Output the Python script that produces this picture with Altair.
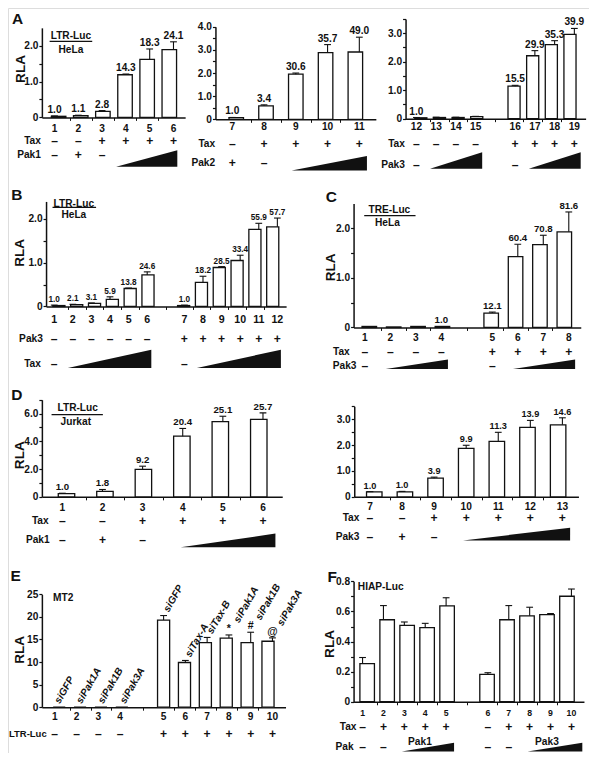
import altair as alt
import pandas as pd

# ---------------------------------------------------------------- data
A1_lane = ["1", "2", "3", "4", "5", "6"]
A1_slot = [1, 2, 3, 4, 5, 6]
A1_rla = [0.03, 0.05, 0.17, 1.19, 1.62, 1.89]
A1_err = [0.01, 0.01, 0.02, 0.02, 0.29, 0.22]
A1_fold = ["1.0", "1.1", "2.8", "14.3", "18.3", "24.1"]
A1_tax = ["–", "–", "+", "+", "+", "+"]
A1_pak = ["–", "+", "–", "", "", ""]
A1_ramp = [[3.59, 6.16]]

A2_lane = ["7", "8", "9", "10", "11"]
A2_slot = [7, 8, 9, 10, 11]
A2_rla = [0.07, 0.585, 1.95, 2.88, 2.91]
A2_err = [0.01, 0.04, 0.05, 0.35, 0.64]
A2_fold = ["1.0", "3.4", "30.6", "35.7", "49.0"]
A2_tax = ["–", "+", "+", "+", "+"]
A2_pak = ["+", "–", "", "", ""]
A2_ramp = [[8.87, 11.24]]

A3_lane = ["12", "13", "14", "15", "16", "17", "18", "19"]
A3_slot = [0, 1, 2, 3, 5, 6, 7, 8]
A3_rla = [0.03, 0.04, 0.04, 0.07, 1.14, 2.21, 2.60, 2.96]
A3_err = [0.01, 0.01, 0.01, 0.01, 0.03, 0.18, 0.14, 0.21]
A3_fold = ["1.0", "", "", "", "15.5", "29.9", "35.3", "39.9"]
A3_tax = ["–", "–", "–", "–", "+", "+", "+", "+"]
A3_pak = ["–", "", "", "", "–", "", "", ""]
A3_ramp = [[0.69, 3.33], [5.69, 8.32]]

B_lane = ["1", "2", "3", "4", "5", "6", "7", "8", "9", "10", "11", "12"]
B_slot = [0, 1, 2, 3, 4, 5, 7, 8, 9, 10, 11, 12]
B_rla = [0.02, 0.04, 0.07, 0.16, 0.41, 0.72, 0.02, 0.55, 0.89, 1.05, 1.76, 1.82]
B_err = [0.01, 0.01, 0.01, 0.06, 0.01, 0.07, 0.01, 0.14, 0.02, 0.12, 0.14, 0.20]
B_fold = ["1.0", "2.1", "3.1", "5.9", "13.8", "24.6", "1.0", "18.2", "28.5", "33.4", "55.9", "57.7"]
B_pak = ["–", "–", "–", "–", "–", "–", "+", "+", "+", "+", "+", "+"]
B_tax = ["–", "", "", "", "", "", "–", "", "", "", "", ""]
B_ramp = [[0.73, 5.22], [7.67, 12.19]]

C_lane = ["1", "2", "3", "4", "5", "6", "7", "8"]
C_slot = [0, 1, 2, 3, 5, 6, 7, 8]
C_rla = [0.02, 0.01, 0.02, 0.02, 0.29, 1.43, 1.67, 1.93]
C_err = [0.0, 0.0, 0.0, 0.0, 0.02, 0.25, 0.19, 0.40]
C_fold = ["", "", "", "1.0", "12.1", "60.4", "70.8", "81.6"]
C_tax = ["–", "–", "–", "–", "+", "+", "+", "+"]
C_pak = ["–", "", "", "", "–", "", "", ""]
C_ramp = [[0.82, 3.26], [5.81, 8.25]]

D1_lane = ["1", "2", "3", "4", "5", "6"]
D1_slot = [1, 2, 3, 4, 5, 6]
D1_rla = [0.23, 0.40, 1.98, 4.37, 5.42, 5.58]
D1_err = [0.03, 0.13, 0.23, 0.56, 0.39, 0.47]
D1_fold = ["1.0", "1.8", "9.2", "20.4", "25.1", "25.7"]
D1_tax = ["–", "–", "+", "+", "+", "+"]
D1_pak = ["–", "+", "–", "", "", ""]
D1_ramp = [[3.95, 6.31]]

D2_lane = ["7", "8", "9", "10", "11", "12", "13"]
D2_slot = [7, 8, 9, 10, 11, 12, 13]
D2_rla = [0.19, 0.19, 0.72, 1.87, 2.14, 2.68, 2.78]
D2_err = [0.01, 0.02, 0.04, 0.12, 0.35, 0.27, 0.27]
D2_fold = ["1.0", "1.0", "3.9", "9.9", "11.3", "13.9", "14.6"]
D2_tax = ["–", "–", "+", "+", "+", "+", "+"]
D2_pak = ["–", "+", "–", "", "", "", ""]
D2_ramp = [[9.9, 13.24]]

E_lane = ["1", "2", "3", "4", "5", "6", "7", "8", "9", "10"]
E_slot = [0, 1, 2, 3, 5, 6, 7, 8, 9, 10]
E_rla = [0, 0, 0, 0, 19.3, 9.9, 14.3, 15.3, 14.3, 14.6]
E_err = [0, 0, 0, 0, 1.0, 0.45, 1.15, 0.7, 2.3, 0.75]
E_si = ["siGFP", "siPak1A", "siPak1B", "siPak3A", "siGFP", "siTax-A", "siTax-B", "siPak1A", "siPak1B", "siPak3A"]
E_mark = ["", "", "", "", "", "", "", "*", "#", "@"]
E_ltr = ["–", "–", "–", "–", "+", "+", "+", "+", "+", "+"]

F_lane = ["1", "2", "3", "4", "5", "6", "7", "8", "9", "10"]
F_slot = [0, 1, 2, 3, 4, 6, 7, 8, 9, 10]
F_rla = [0.253, 0.545, 0.508, 0.493, 0.637, 0.182, 0.545, 0.571, 0.579, 0.701]
F_err = [0.041, 0.094, 0.022, 0.028, 0.054, 0.011, 0.094, 0.057, 0.007, 0.048]
F_tax = ["–", "+", "+", "+", "+", "–", "+", "+", "+", "+"]
F_pak = ["–", "–", "", "", "", "–", "–", "", "", ""]
F_ramp = [[1.88, 4.38], [7.9, 10.52]]
F_ramp_name = ["Pak1", "Pak3"]

# ---------------------------------------------------------------- layout
S = 0.968
W, H = round(600 * S), round(770 * S)
FONT = "Liberation Sans"
INK = "#111111"


def P(v):
    return v * S


GEOM = {
    "A1": dict(xa=35, xb=183, d0=0.47, d1=6.49, y0=113, unit=37, ymax=2.5,
               ticks=[0, 0.5, 1, 1.5, 2], labels={0: "0", 1: "1.0", 2: "2.0"},
               bw=15, vfs=10.5, lane_y=125),
    "A2": dict(xa=214.3, xb=380, d0=6.47, d1=11.52, y0=115, unit=23.9, ymax=4,
               ticks=[0, 0.5, 1, 1.5, 2, 2.5, 3, 3.5, 4],
               labels={0: "0", 1: "1.0", 2: "2.0", 3: "3.0", 4: "4.0"},
               bw=15, vfs=10.5, lane_y=123),
    "A3": dict(xa=410.7, xb=596.7, d0=-0.55, d1=8.57, y0=114.3, unit=29.4, ymax=3.5,
               ticks=[0, 0.5, 1, 1.5, 2, 2.5, 3, 3.5],
               labels={0: "0", 1: "1.0", 2: "2.0", 3: "3.0"},
               bw=12.5, vfs=10.5, lane_y=123),
    "B": dict(xa=39.3, xb=287.3, d0=-0.44, d1=12.47, y0=308.3, unit=45.2, ymax=2.4,
              ticks=[0, 0.5, 1, 1.5, 2], labels={0: "0", 1: "1.0", 2: "2.0"},
              bw=12.5, vfs=8.5, lane_y=322, lane_fs=11),
    "C": dict(xa=357, xb=591.7, d0=-0.44, d1=8.47, y0=330, unit=51.2, ymax=2.5,
              ticks=[0, 0.5, 1, 1.5, 2], labels={0: "0", 1: "1.0", 2: "2.0"},
              bw=15, vfs=10, lane_y=341),
    "D1": dict(xa=35, xb=283.3, d0=0.49, d1=6.48, y0=505, unit=14.33, ymax=7,
               ticks=[0, 1, 2, 3, 4, 5, 6, 7], labels={0: "0", 2: "2.0", 4: "4.0", 6: "6.0"},
               bw=17, vfs=10, lane_y=517),
    "D2": dict(xa=357.7, xb=589.3, d0=6.51, d1=13.5, y0=505, unit=26.77, ymax=3.5,
               ticks=[0, 0.5, 1, 1.5, 2, 2.5, 3, 3.5],
               labels={0: "0", 1: "1.0", 2: "2.0", 3: "3.0"},
               bw=16, vfs=9.5, lane_y=515),
    "E": dict(xa=35, xb=286.7, d0=-0.59, d1=10.6, y0=722.3, unit=4.664, ymax=25,
              ticks=[0, 5, 10, 15, 20, 25],
              labels={0: "0", 5: "5", 10: "10", 15: "15", 20: "20", 25: "25"},
              bw=12.5, vfs=10, lane_y=732),
    "F": dict(xa=357, xb=595, d0=-0.43, d1=10.6, y0=716.7, unit=155.5, ymax=0.8,
              ticks=[0, 0.1, 0.2, 0.3, 0.4, 0.5, 0.6, 0.7, 0.8],
              labels={0: "0", 0.2: "0.2", 0.4: "0.4", 0.6: "0.6", 0.8: "0.8"},
              bw=15, vfs=10, lane_y=728, lane_fs=9),
}

layers = []


def txt(s, x, y, size=10.5, align="center", baseline="middle", angle=0, style="normal"):
    return alt.Chart(pd.DataFrame({"t": [s]})).mark_text(
        align=align, baseline=baseline, angle=angle, font=FONT, fontSize=P(size),
        fontWeight="bold", fontStyle=style, color=INK
    ).encode(x=alt.value(P(x)), y=alt.value(P(y)), text="t:N")


def hline(x0, x1, y, w=1.2):
    return alt.Chart(pd.DataFrame({"t": [0]})).mark_rule(color=INK, strokeWidth=w).encode(
        x=alt.value(P(x0)), x2=alt.value(P(x1)), y=alt.value(P(y)))


def label_expr(lab):
    expr = "''"
    for v, s in reversed(list(lab.items())):
        expr = f"(datum.value == {v}) ? '{s}' : {expr}"
    return expr


def panel(g, df, rows, ramps, ramp_box, with_fold=True):
    xs = alt.Scale(domain=[g["d0"], g["d1"]], range=[P(g["xa"]), P(g["xb"])], nice=False, zero=False)
    ys = alt.Scale(domain=[0, g["ymax"]], range=[P(g["y0"]), P(g["y0"] - g["ymax"] * g["unit"])],
                   nice=False, zero=False)
    slots = sorted(df["slot"].tolist())
    mids = [(a + b) / 2 for a, b in zip(slots[:-1], slots[1:])]
    yax = alt.Axis(orient="left", offset=-P(g["xa"]), values=g["ticks"], labelExpr=label_expr(g["labels"]),
                   title=None, grid=False, domainColor=INK, domainWidth=1.5, tickColor=INK, tickWidth=1.2,
                   tickSize=3, labelFont=FONT, labelFontSize=P(10.5), labelFontWeight="bold", labelColor=INK,
                   labelPadding=1, labelOverlap=False)
    xax = alt.Axis(orient="bottom", offset=P(g["y0"]) - H, values=mids, labels=False, title=None, grid=False,
                   domainColor=INK, domainWidth=1.5, tickColor=INK, tickWidth=1, tickSize=3)
    base = alt.Chart(df)
    X = alt.X("slot:Q", scale=xs, axis=None)
    out = []
    out.append(base.mark_bar(orient="vertical", size=P(g["bw"]), fill="white", stroke=INK, strokeWidth=1.3)
               .encode(x=alt.X("slot:Q", scale=xs, axis=xax), y=alt.Y("rla:Q", scale=ys, axis=yax)))
    eb = base.transform_filter("datum.err > 0").transform_calculate(top="datum.rla + datum.err")
    out.append(eb.mark_rule(color=INK, strokeWidth=1.1)
               .encode(x=X, y=alt.Y("rla:Q", scale=ys, axis=None), y2="top:Q"))
    out.append(eb.mark_tick(orient="horizontal", size=P(7), thickness=1.1, color=INK, opacity=1)
               .encode(x=X, y=alt.Y("top:Q", scale=ys, axis=None)))
    if with_fold:
        out.append(base.transform_calculate(top="datum.rla + datum.err")
                   .mark_text(baseline="bottom", dy=-1, font=FONT, fontSize=P(g["vfs"]), fontWeight="bold", color=INK)
                   .encode(x=X, y=alt.Y("top:Q", scale=ys, axis=None), text="fold:N"))
    out.append(base.mark_text(baseline="middle", font=FONT, fontSize=P(g.get("lane_fs", 10.5)),
                              fontWeight="bold", color=INK)
               .encode(x=X, y=alt.value(P(g["lane_y"])), text="lane:N"))
    for name, field, ry, rx, *opt in rows:
        out.append(base.mark_text(baseline="middle", font=FONT, fontSize=P(12.5), fontWeight="bold", color=INK)
                   .encode(x=X, y=alt.value(P(ry)), text=f"{field}:N"))
        if opt:
            out.append(txt(name, rx, ry, size=opt[0], align="left"))
        else:
            out.append(txt(name, rx, ry, size=10.5, align="right"))
    bot, top = ramp_box
    for a, b in ramps:
        rd = pd.DataFrame({"slot": [a, b], "h": [0, 1]})
        out.append(alt.Chart(rd).mark_area(orient="vertical", color=INK, opacity=1)
                   .encode(x=X, y=alt.Y("h:Q", scale=alt.Scale(domain=[0, 1], range=[P(bot), P(top)]), axis=None),
                           y2=alt.value(P(bot))))
    return out, xs, ys


def frame(lane, slot, rla, err, **extra):
    d = {"lane": lane, "slot": slot, "rla": rla, "err": err}
    d.update(extra)
    return pd.DataFrame(d)


# ---- A
l, _, _ = panel(GEOM["A1"], frame(A1_lane, A1_slot, A1_rla, A1_err, fold=A1_fold, tax=A1_tax, pak=A1_pak),
                [("Tax", "tax", 137, 34), ("Pak1", "pak", 152, 34)], A1_ramp, (164, 147))
layers += l
l, _, _ = panel(GEOM["A2"], frame(A2_lane, A2_slot, A2_rla, A2_err, fold=A2_fold, tax=A2_tax, pak=A2_pak),
                [("Tax", "tax", 140, 214), ("Pak2", "pak", 160, 214)], A2_ramp, (168, 153))
layers += l
l, _, _ = panel(GEOM["A3"], frame(A3_lane, A3_slot, A3_rla, A3_err, fold=A3_fold, tax=A3_tax, pak=A3_pak),
                [("Tax", "tax", 140, 410), ("Pak3", "pak", 162, 410)], A3_ramp, (166, 149))
layers += l
# ---- B
l, _, _ = panel(GEOM["B"], frame(B_lane, B_slot, B_rla, B_err, fold=B_fold, tax=B_tax, pak=B_pak),
                [("Pak3", "pak", 342, 36), ("Tax", "tax", 368, 34)], B_ramp, (372, 353))
layers += l
# ---- C
l, _, _ = panel(GEOM["C"], frame(C_lane, C_slot, C_rla, C_err, fold=C_fold, tax=C_tax, pak=C_pak),
                [("Tax", "tax", 355, 353), ("Pak3", "pak", 370, 360)], C_ramp, (373, 363))
layers += l
# ---- D
l, _, _ = panel(GEOM["D1"], frame(D1_lane, D1_slot, D1_rla, D1_err, fold=D1_fold, tax=D1_tax, pak=D1_pak),
                [("Tax", "tax", 530, 42), ("Pak1", "pak", 550, 43)], D1_ramp, (557, 543))
layers += l
l, _, _ = panel(GEOM["D2"], frame(D2_lane, D2_slot, D2_rla, D2_err, fold=D2_fold, tax=D2_tax, pak=D2_pak),
                [("Tax", "tax", 527, 363), ("Pak3", "pak", 546, 363)], D2_ramp, (550, 537))
layers += l
# ---- E
dfE = frame(E_lane, E_slot, E_rla, E_err, si=E_si, mark=E_mark, ltr=E_ltr)
l, xsE, ysE = panel(GEOM["E"], dfE, [("LTR-Luc", "ltr", 750, 1, 9.8)], [], (0, 0), with_fold=False)
layers += l
XE = alt.X("slot:Q", scale=xsE, axis=None)
eE = alt.Chart(dfE).transform_calculate(top="datum.rla + datum.err")
layers.append(eE.transform_filter("datum.mark == ''")
              .mark_text(align="left", baseline="middle", angle=300, dx=5, font=FONT, fontSize=P(10.5),
                         fontWeight="bold", fontStyle="italic", color=INK)
              .encode(x=XE, y=alt.Y("top:Q", scale=ysE, axis=None), text="si:N"))
layers.append(eE.transform_filter("datum.mark != ''")
              .mark_text(align="left", baseline="middle", angle=300, dx=15, font=FONT, fontSize=P(10.5),
                         fontWeight="bold", fontStyle="italic", color=INK)
              .encode(x=XE, y=alt.Y("top:Q", scale=ysE, axis=None), text="si:N"))
layers.append(eE.transform_filter("datum.mark != ''")
              .mark_text(baseline="middle", dy=-6, font=FONT, fontSize=P(11), fontWeight="bold", color=INK)
              .encode(x=XE, y=alt.Y("top:Q", scale=ysE, axis=None), text="mark:N"))
# ---- F
l, xsF, _ = panel(GEOM["F"], frame(F_lane, F_slot, F_rla, F_err, tax=F_tax, pak=F_pak),
                  [("Tax", "tax", 743, 360), ("Pak", "pak", 763, 357)], F_ramp, (768, 759), with_fold=False)
layers += l
rn = pd.DataFrame({"slot": [(a + b) / 2 for a, b in F_ramp], "name": F_ramp_name})
layers.append(alt.Chart(rn).mark_text(baseline="middle", dx=-8, font=FONT, fontSize=P(10.5), fontWeight="bold", color=INK)
              .encode(x=alt.X("slot:Q", scale=xsF, axis=None), y=alt.value(P(758)), text="name:N"))

# ---- titles, letters, y titles
for s, x, y in [("A", 10, 11), ("B", 9, 193), ("C", 334, 195), ("D", 9, 400), ("E", 8, 587), ("F", 335, 588)]:
    layers.append(txt(s, x, y, size=16))
for x, y in [(13, 63), (12, 253), (334, 268), (12, 462), (12, 663), (333, 657)]:
    layers.append(txt("RLA", x, y, size=14, angle=270))
layers += [txt("LTR-Luc", 65, 29), hline(43, 87, 34.5), txt("HeLa", 65, 43),
           txt("LTR-Luc", 68, 202), hline(46, 91, 206), txt("HeLa", 68, 214),
           txt("TRE-Luc", 394, 209), hline(368, 421, 214.5), txt("HeLa", 392, 222),
           txt("LTR-Luc", 72, 413), hline(45, 98, 420), txt("Jurkat", 70, 428),
           txt("MT2", 57, 609, size=10.5), txt("HIAP-Luc", 385, 598, size=10.5)]

chart = alt.layer(*layers).resolve_scale(x="independent", y="independent").properties(
    width=W, height=H, autosize=alt.AutoSizeParams(type="none"), padding=0
).configure_view(stroke=None).configure(background="white")

chart.save("out.html", embed_options={"renderer": "svg", "actions": False})
